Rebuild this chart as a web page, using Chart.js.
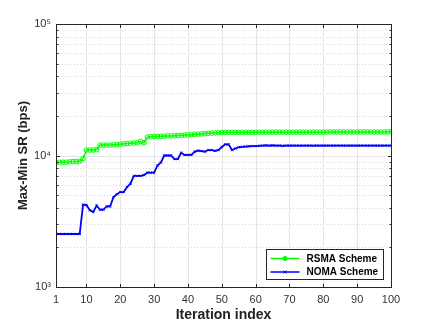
<!DOCTYPE html>
<html><head><meta charset="utf-8">
<script src="https://cdn.jsdelivr.net/npm/chart.js@4/dist/chart.umd.min.js"></script>
<style>html,body{margin:0;padding:0;background:#fff;}#wrap{width:432px;height:324px;}</style>
</head><body><div id="wrap"><canvas id="c" width="432" height="324"></canvas></div>
<script>
const iterations = Array.from({length: 100}, (_, i) => i + 1);
const rsmaValues = [
  8880, 8880, 8900, 8900, 8950, 9000, 9000, 9050, 9500, 11000,
  11000, 11000, 11100, 12000, 12000, 12000, 12000, 12050, 12100, 12200,
  12300, 12350, 12400, 12450, 12500, 12800, 12500, 13800, 13900, 13950,
  14000, 14000, 14050, 14100, 14100, 14150, 14200, 14250, 14300, 14350,
  14400, 14500, 14550, 14600, 14700, 14750, 14800, 14850, 14900, 14950,
  15000, 15000, 15000, 15000, 15000, 15000, 15000, 15000, 15000, 15000,
  15050, 15050, 15050, 15050, 15050, 15050, 15050, 15050, 15050, 15050,
  15050, 15050, 15050, 15050, 15050, 15050, 15050, 15050, 15050, 15050,
  15100, 15100, 15100, 15100, 15100, 15100, 15100, 15100, 15100, 15100,
  15100, 15100, 15100, 15100, 15100, 15100, 15100, 15100, 15100, 15200
];
const nomaValues = [
  2530, 2530, 2530, 2530, 2530, 2530, 2530, 2530, 4230, 4200,
  3830, 3720, 4160, 3870, 3870, 4100, 4100, 4830, 5070, 5270,
  5270, 5760, 6100, 7000, 7000, 7000, 7100, 7400, 7400, 7400,
  8400, 8850, 10000, 10000, 10000, 9400, 9400, 10500, 10100, 10100,
  10100, 10700, 10900, 10800, 10700, 11000, 11000, 10850, 11000, 11600,
  12150, 12150, 11000, 11300, 11550, 11650, 11700, 11750, 11800, 11800,
  11850, 11900, 11950, 11900, 11950, 11900, 11900, 11850, 11900, 11900,
  11900, 11900, 11880, 11900, 11900, 11900, 11880, 11900, 11900, 11900,
  11900, 11900, 11900, 11900, 11900, 11900, 11900, 11900, 11900, 11900,
  11900, 11900, 11900, 11900, 11900, 11900, 11900, 11900, 11900, 11900
];
const seriesLabels = ['RSMA Scheme', 'NOMA Scheme'];
const xTickValues = [1, 10, 20, 30, 40, 50, 60, 70, 80, 90, 100];
const yTickValues = [1000, 10000, 100000];
const yTickLabels = ['10\u00B3', '10\u2074', '10\u2075'];
const yMinorValues = [2000,3000,4000,5000,6000,7000,8000,9000,20000,30000,40000,50000,60000,70000,80000,90000];

const gridPlugin = {
  id: 'matlabGrid',
  beforeDatasetsDraw(chart) {
    const {ctx, chartArea: a, scales: {x, y}} = chart;
    ctx.save();
    ctx.lineWidth = 1;
    ctx.strokeStyle = '#d6d6d6';
    ctx.setLineDash([1, 2]);
    yMinorValues.forEach(v => {
      const py = Math.round(y.getPixelForValue(v)) + 0.5;
      ctx.beginPath(); ctx.moveTo(a.left, py); ctx.lineTo(a.right, py); ctx.stroke();
    });
    ctx.setLineDash([]);
    ctx.strokeStyle = '#e4e4e4';
    xTickValues.forEach(v => {
      const px = Math.round(x.getPixelForValue(v)) + 0.5;
      ctx.beginPath(); ctx.moveTo(px, a.top); ctx.lineTo(px, a.bottom); ctx.stroke();
    });
    yTickValues.forEach(v => {
      const py = Math.round(y.getPixelForValue(v)) + 0.5;
      ctx.beginPath(); ctx.moveTo(a.left, py); ctx.lineTo(a.right, py); ctx.stroke();
    });
    ctx.restore();
  },
  afterDatasetsDraw(chart) {
    const {ctx, chartArea: a, scales: {x, y}} = chart;
    ctx.save();
    ctx.strokeStyle = '#262626';
    ctx.lineWidth = 1;
    const L = Math.round(a.left) + 0.5, R = Math.round(a.right) + 0.5;
    const T = Math.round(a.top) + 0.5, B = Math.round(a.bottom) + 0.5;
    ctx.strokeRect(L, T, R - L, B - T);
    ctx.beginPath();
    xTickValues.forEach(v => {
      const px = Math.round(x.getPixelForValue(v)) + 0.5;
      ctx.moveTo(px, B); ctx.lineTo(px, B - 3.5);
      ctx.moveTo(px, T); ctx.lineTo(px, T + 3.5);
    });
    yTickValues.forEach(v => {
      const py = Math.round(y.getPixelForValue(v)) + 0.5;
      ctx.moveTo(L, py); ctx.lineTo(L + 3.5, py);
      ctx.moveTo(R, py); ctx.lineTo(R - 3.5, py);
    });
    yMinorValues.forEach(v => {
      const py = Math.round(y.getPixelForValue(v)) + 0.5;
      ctx.moveTo(L, py); ctx.lineTo(L + 2, py);
      ctx.moveTo(R, py); ctx.lineTo(R - 2, py);
    });
    ctx.stroke();
    ctx.restore();
  },
  afterDraw(chart) {
    const {ctx, chartArea: a} = chart;
    const bx = Math.round(a.right) - 125 + 0.5, by = Math.round(a.bottom) - 38 + 0.5, bw = 117, bh = 30;
    ctx.save();
    ctx.fillStyle = '#fff';
    ctx.fillRect(bx, by, bw, bh);
    ctx.strokeStyle = '#262626';
    ctx.lineWidth = 1;
    ctx.strokeRect(bx, by, bw, bh);
    ctx.font = 'bold 10px "Liberation Sans", Arial, sans-serif';
    ctx.textBaseline = 'middle';
    chart.data.datasets.forEach((ds, i) => {
      const ly = by + 9 + i * 13.5;
      ctx.strokeStyle = ds.borderColor;
      ctx.lineWidth = 1.5;
      ctx.beginPath(); ctx.moveTo(bx + 4, ly); ctx.lineTo(bx + 33, ly); ctx.stroke();
      if (i === 0) {
        ctx.fillStyle = ds.borderColor;
        ctx.beginPath(); ctx.arc(bx + 18.5, ly, 2.5, 0, Math.PI * 2); ctx.fill();
      } else {
        ctx.lineWidth = 1;
        ctx.beginPath();
        ctx.moveTo(bx + 17, ly - 1.5); ctx.lineTo(bx + 20, ly + 1.5);
        ctx.moveTo(bx + 20, ly - 1.5); ctx.lineTo(bx + 17, ly + 1.5);
        ctx.stroke();
      }
      ctx.fillStyle = '#000';
      ctx.fillText(ds.label, bx + 40, ly + 0.5);
    });
    ctx.restore();
  }
};

new Chart(document.getElementById('c'), {
  type: 'line',
  data: {
    datasets: [
      {
        label: seriesLabels[0],
        data: iterations.map((it, i) => ({x: it, y: rsmaValues[i]})),
        borderColor: '#00ff00',
        backgroundColor: 'rgba(0,0,0,0)',
        borderWidth: 1.5,
        pointStyle: 'circle',
        pointRadius: 2.3,
        pointBorderWidth: 1,
        pointBackgroundColor: 'rgba(255,255,255,0)',
        pointBorderColor: '#00ff00',
        tension: 0
      },
      {
        label: seriesLabels[1],
        data: iterations.map((it, i) => ({x: it, y: nomaValues[i]})),
        borderColor: '#0000ff',
        backgroundColor: 'rgba(0,0,0,0)',
        borderWidth: 1.8,
        pointStyle: 'crossRot',
        pointRadius: 1.6,
        pointBorderWidth: 1,
        pointBorderColor: '#0000ff',
        tension: 0
      }
    ]
  },
  options: {
    responsive: false,
    animation: false,
    devicePixelRatio: 1,
    layout: {padding: {left: 0, right: 41, top: 24, bottom: 0}},
    plugins: {legend: {display: false}, tooltip: {enabled: false}},
    scales: {
      x: {
        type: 'linear', min: 1, max: 100,
        grid: {display: false, drawTicks: false},
        border: {display: false},
        afterBuildTicks: s => { s.ticks = xTickValues.map(v => ({value: v})); },
        afterFit: s => { s.height = 37; },
        ticks: {color: '#333', font: {size: 11, family: '"Liberation Sans", Arial, sans-serif'}, padding: 6, maxRotation: 0, autoSkip: false},
        title: {display: true, text: 'Iteration index', color: '#222', font: {size: 14, weight: 'bold', family: '"Liberation Sans", Arial, sans-serif'}, padding: {top: 0, bottom: 0}}
      },
      y: {
        type: 'logarithmic', min: 1000, max: 100000,
        grid: {display: false, drawTicks: false},
        border: {display: false},
        afterBuildTicks: s => { s.ticks = yTickValues.map(v => ({value: v})); },
        afterFit: s => { s.width = 56; },
        ticks: {
          color: '#333', font: {size: 11, family: '"Liberation Sans", Arial, sans-serif'}, padding: 5, autoSkip: false,
          callback: v => { const k = yTickValues.indexOf(v); return k >= 0 ? yTickLabels[k] : ''; }
        },
        title: {display: true, text: 'Max-Min SR (bps)', color: '#222', font: {size: 13, weight: 'bold', family: '"Liberation Sans", Arial, sans-serif'}, padding: {top: 16, bottom: 0}}
      }
    }
  },
  plugins: [gridPlugin]
});
</script>
</body></html>
